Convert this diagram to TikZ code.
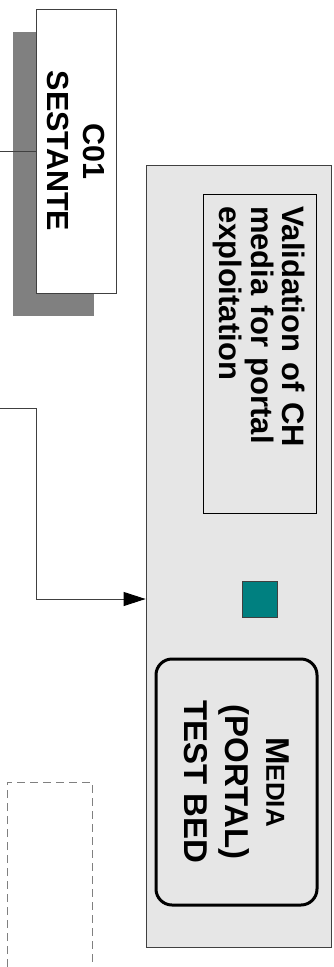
\documentclass[tikz,border=0pt]{standalone}
\usepackage{fontspec}
\setmainfont{Liberation Sans}
\usetikzlibrary{arrows.meta}
\definecolor{panelgray}{RGB}{230,230,230}
\definecolor{shadowgray}{RGB}{128,128,128}
\definecolor{tealsq}{RGB}{0,128,128}
\definecolor{linegray}{RGB}{64,64,64}
\tikzset{
  boxtext/.style={font=\bfseries\fontsize{30.5}{36}\selectfont},
  wirestyle/.style={draw=linegray, line width=0.9pt},
}
\begin{document}
\begin{tikzpicture}[x=1pt,y=-1pt]
\useasboundingbox (0,0) rectangle (334,967);
% shadow of C01
\fill[shadowgray] (13,32) rectangle (94,316);
% C01 box
\node[rotate=-90, draw=linegray, line width=0.8pt, fill=white, minimum width=284pt, minimum height=80pt, inner sep=0pt, align=center, boxtext]
  (c01) at (76,151) {C01\\SESTANTE};
% line to C01
\coordinate (c01in) at (0,151);
\draw[wirestyle] (c01in) -- (c01.south);
% panel
\node[draw=linegray, line width=0.8pt, fill=panelgray, minimum width=185pt, minimum height=782pt, inner sep=0pt]
  (panel) at (238.5,556) {};
% inner validation box
\node[rotate=-90, draw=black, line width=0.8pt, minimum width=319pt, minimum height=113pt, text width=295pt, inner xsep=12pt, inner ysep=0pt, align=left, font=\bfseries\fontsize{31}{31.5}\selectfont]
  (valid) at (259.5,353.5) {Validation of CH\\media for portal\\exploitation};
% teal square
\node[draw=linegray, line width=0.6pt, fill=tealsq, minimum width=35pt, minimum height=36pt, inner sep=0pt]
  (teal) at (259.5,599) {};
% media test bed
\node[rotate=-90, draw=black, line width=3pt, rounded corners=16pt, minimum width=246pt, minimum height=161pt, inner sep=0pt, align=center, font=\bfseries\fontsize{33}{41}\selectfont]
  (media) at (236.5,782) {M{\fontsize{26}{41}\selectfont EDIA}\\(PORTAL)\\TEST BED};
% arrow connector
\coordinate (arrin) at (0,408);
\coordinate (bend) at (36,408);
\draw[wirestyle, -{Triangle[length=22pt,width=14pt,fill=black,color=black]}] (arrin) -- (bend) |- (panel.west |- teal.center);
% dashed box (open at bottom)
\coordinate (dA) at (7,967);
\coordinate (dB) at (7,782);
\coordinate (dC) at (92,782);
\coordinate (dD) at (92,967);
\draw[draw=shadowgray, line width=0.9pt, dash pattern=on 8pt off 5pt] (dA) -- (dB) -- (dC) -- (dD);
\end{tikzpicture}
\end{document}
